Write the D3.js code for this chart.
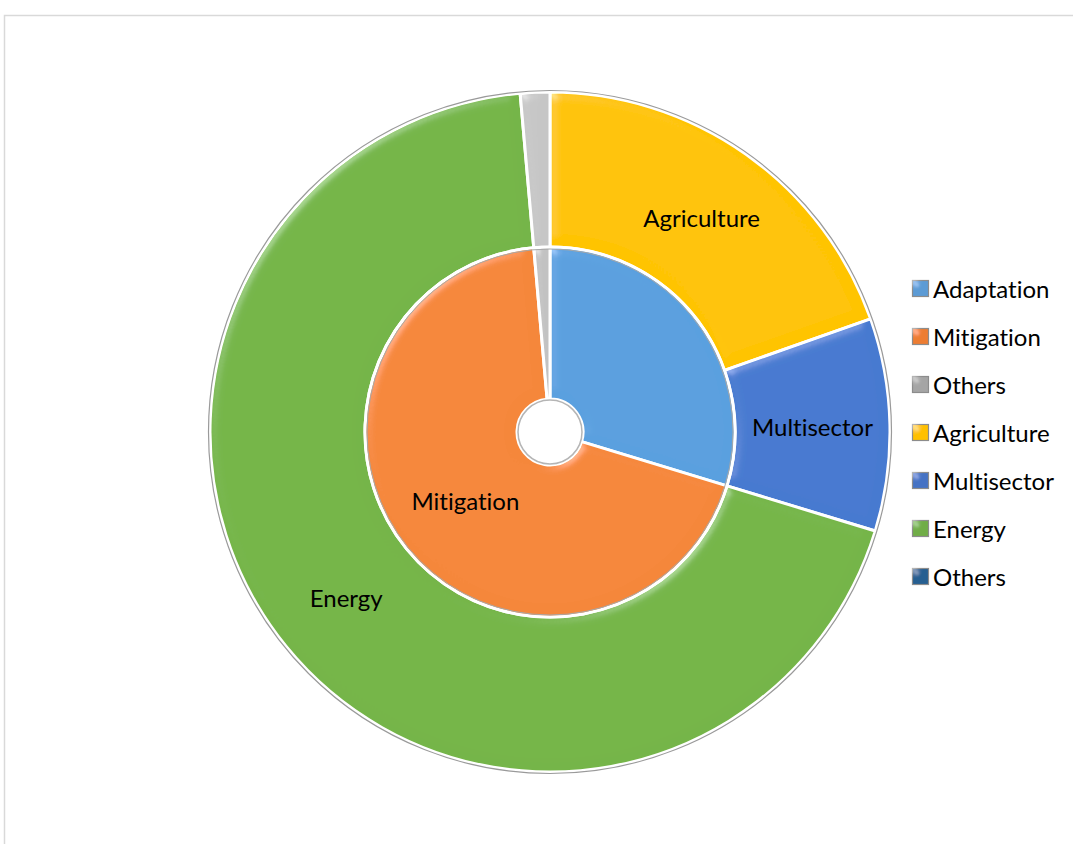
<!DOCTYPE html>
<html>
<head>
<meta charset="utf-8">
<script src="https://cdn.jsdelivr.net/npm/d3@7/dist/d3.min.js"></script>
<style>
  html, body { margin: 0; padding: 0; background: #fff; }
  svg { display: block; }
  text { font-family: Lato, "Open Sans", sans-serif; fill: #000; font-variant-ligatures: none; font-feature-settings: "liga" 0; }
</style>
</head>
<body>
<svg id="chart" width="1073" height="844"></svg>
<script>
// Climate finance split: inner ring by purpose, outer ring by sector
const innerCategories = ["Adaptation", "Mitigation", "Others"];
const innerValues = [29.7, 68.9, 1.4];
const outerCategories = ["Agriculture", "Multisector", "Energy", "Others"];
const outerValues = [19.6, 10.1, 68.9, 1.4];
const legendLabels = ["Adaptation", "Mitigation", "Others", "Agriculture", "Multisector", "Energy", "Others"];
const legendColors = ["#5B9BD5", "#ED7D31", "#A5A5A5", "#FFC000", "#4472C4", "#70AD47", "#255E91"];
const innerColors = ["#5aa0df", "#f5873a", "#c2c2c2"];
const outerColors = ["#ffc400", "#477ad0", "#75b548", "#c6c6c6"];
const innerLabelled = ["Mitigation"];
const outerLabelled = ["Agriculture", "Multisector", "Energy"];

const svg = d3.select("#chart");
const W = 1073, H = 844;
const cx = 550, cy = 432;
const rHole = 33, rMid = 185, rOuter = 340;

// outer frame of the chart area
svg.append("rect")
  .attr("x", 4.5).attr("y", 15.5)
  .attr("width", W + 20).attr("height", H + 20)
  .attr("fill", "#fff").attr("stroke", "#d9d9d9").attr("stroke-width", 1.5);

// soft bevel lighting for slices
const defs = svg.append("defs");
const bevel = defs.append("filter").attr("id", "bevel")
  .attr("x", "-10%").attr("y", "-10%").attr("width", "120%").attr("height", "120%");
bevel.append("feGaussianBlur").attr("in", "SourceAlpha").attr("stdDeviation", 6).attr("result", "blur");
const spec = bevel.append("feSpecularLighting").attr("in", "blur")
  .attr("surfaceScale", 5).attr("specularConstant", 0.8).attr("specularExponent", 30)
  .attr("lighting-color", "#ffffff").attr("result", "spec");
spec.append("feDistantLight").attr("azimuth", 225).attr("elevation", 30);
bevel.append("feComposite").attr("in", "spec").attr("in2", "SourceAlpha").attr("operator", "in").attr("result", "specIn");
bevel.append("feComposite").attr("in", "SourceGraphic").attr("in2", "specIn")
  .attr("operator", "arithmetic").attr("k1", 0).attr("k2", 1).attr("k3", 0.25).attr("k4", 0);

const pie = d3.pie().sort(null).value(d => d.value);
const g = svg.append("g").attr("transform", `translate(${cx},${cy})`);

function ring(categories, values, colors, r0, r1, cls) {
  const data = categories.map((c, i) => ({ name: c, value: values[i], color: colors[i] }));
  const arcs = pie(data);
  const arc = d3.arc().innerRadius(r0).outerRadius(r1);
  const grp = g.append("g").attr("class", cls);
  grp.selectAll("path").data(arcs).join("path")
    .attr("d", arc)
    .attr("fill", d => d.data.color)
    .attr("stroke", "#ffffff").attr("stroke-width", 3)
    .attr("stroke-linejoin", "round")
    .attr("filter", "url(#bevel)");
  return { arcs, arc };
}

const outer = ring(outerCategories, outerValues, outerColors, rMid, rOuter, "outer");
const inner = ring(innerCategories, innerValues, innerColors, rHole, rMid, "inner");

// rim outlines
g.append("circle").attr("r", rOuter + 1.5).attr("fill", "none").attr("stroke", "#9a9a9a").attr("stroke-width", 1.2);
g.append("circle").attr("r", rMid - 2).attr("fill", "none").attr("stroke", "#a8a8a8").attr("stroke-width", 1);
g.append("circle").attr("r", rHole - 1).attr("fill", "#ffffff").attr("stroke", "#b5b5b5").attr("stroke-width", 1.5);

// data labels at slice centroids
function labels(res, names) {
  g.append("g").selectAll("text")
    .data(res.arcs.filter(d => names.includes(d.data.name)))
    .join("text")
    .attr("transform", d => `translate(${res.arc.centroid(d)})`)
    .attr("text-anchor", "middle")
    .attr("dominant-baseline", "central")
    .attr("font-size", 24)
    .text(d => d.data.name);
}
labels(outer, outerLabelled);
labels(inner, innerLabelled);

// legend
const legend = svg.append("g").attr("transform", "translate(912,289)");
const rows = legend.selectAll("g").data(legendLabels).join("g")
  .attr("transform", (d, i) => `translate(0,${i * 48})`);
rows.append("rect")
  .attr("x", 0.5).attr("y", -8.5).attr("width", 16).attr("height", 16)
  .attr("fill", (d, i) => legendColors[i])
  .attr("stroke", "#8c8c8c").attr("stroke-width", 1.2)
  .attr("filter", "url(#bevel)");
rows.append("text")
  .attr("x", 21).attr("y", -1)
  .attr("dominant-baseline", "central")
  .attr("font-size", 24)
  .text(d => d);
</script>
</body>
</html>
